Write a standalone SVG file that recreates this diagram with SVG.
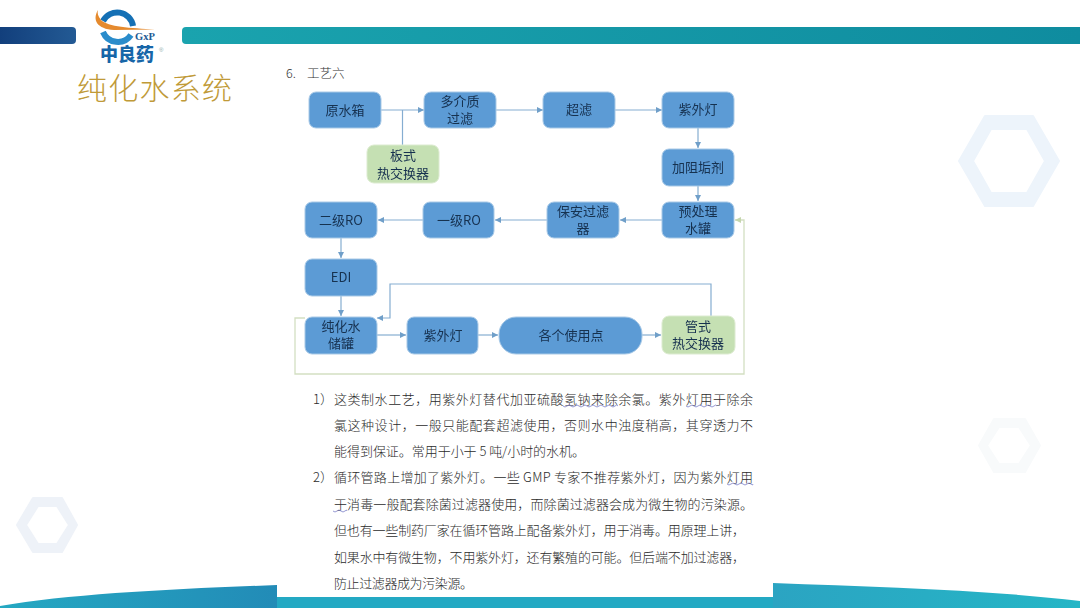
<svg xmlns="http://www.w3.org/2000/svg" width="1080" height="608" viewBox="0 0 1080 608">
<style>
.n{fill:#5b9bd5;stroke:#a9c9e6;stroke-width:1}
.g{fill:#c5e0b3;stroke:#dcebd0;stroke-width:1}
.t{font-family:"Noto Sans CJK SC","Liberation Sans",sans-serif;font-size:13px;fill:#17304f;text-anchor:middle}
.c{fill:none;stroke:#85add1;stroke-width:1.2}
.l{fill:none;stroke:#d3dfc2;stroke-width:1.3}
.p{font-family:"Noto Sans CJK SC","Liberation Serif",sans-serif;font-size:13px;font-weight:300;fill:#2b2b2b}
.w{fill:none;stroke:#6a6fc0;stroke-width:.7}
.h{fill-rule:evenodd;stroke-linejoin:round;stroke-width:2}
</style>
<defs>
<marker id="a" markerWidth="8" markerHeight="8" refX="6" refY="3" orient="auto" markerUnits="userSpaceOnUse"><path d="M0 0L6 3L0 6z" fill="#6f9fc9"/></marker>
<marker id="b" markerWidth="8" markerHeight="8" refX="6" refY="3" orient="auto" markerUnits="userSpaceOnUse"><path d="M0 0L6 3L0 6z" fill="#c5d6ad"/></marker>
<linearGradient id="bar1" x1="0" x2="1"><stop offset="0" stop-color="#123f7c"/><stop offset="1" stop-color="#235a94"/></linearGradient>
<linearGradient id="bar2" x1="0" x2="1"><stop offset="0" stop-color="#1aa3ae"/><stop offset="1" stop-color="#0f8c9f"/></linearGradient>
<linearGradient id="wL" x1="0" x2="1"><stop offset="0" stop-color="#25a8c2"/><stop offset="1" stop-color="#2289b6"/></linearGradient>
<linearGradient id="wR" x1="0" x2="1"><stop offset="0" stop-color="#2ba4c2"/><stop offset="1" stop-color="#25b6c6"/></linearGradient>
<filter id="s" x="-5%" y="-5%" width="110%" height="110%"><feGaussianBlur stdDeviation="0.35"/></filter>
</defs>
<rect width="1080" height="608" fill="#fff"/>
<g id="decor">
<path class="h" fill="#edf4fb" stroke="#edf4fb" d="M985 116H1033L1059 161L1033 206H985L959 161Z M991 129L973 161L991 193H1027L1045 161L1027 129Z"/>
<path class="h" fill="#f8fafb" stroke="#f8fafb" d="M994 419H1025L1040 445.500L1025 472H994L979 445.500Z M999 427L987 445.500L999 464H1019L1031 445.500L1019 427Z"/>
<path class="h" fill="#eef2f8" stroke="#eef2f8" d="M33 498H62L77 525L62 552H33L17 525Z M38 506L26 525L38 544H57L69 525L57 506Z"/>
<path fill="url(#wL)" d="M0 608V606C70 594 170 589 277 585V597H300V608Z"/>
<path fill="url(#wR)" d="M773 608V583C880 587 990 590 1080 601V608Z"/>
<rect x="277" y="597" width="496" height="11" fill="#23a9c3"/>
<path fill="url(#bar1)" d="M0 27H72Q76 27 76 31V40Q76 44 72 44H0Z"/>
<path fill="url(#bar2)" d="M186 27H1080V44H186Q182 44 182 40V31Q182 27 186 27Z"/>
</g>
<g id="logo">
<rect x="92" y="5" width="44" height="42" fill="#fff"/>
<path fill="none" stroke="#1570b5" stroke-width="6" d="M133 26A16 16 0 0 0 103 21"/>
<path fill="none" stroke="#2a8ccb" stroke-width="6" d="M103 32A16 16 0 0 0 131 35"/>
<path fill="#fff" d="M99 20C104 28 118 30 150 30L120 34C106 34 99 28 99 20Z"/>
<path fill="#e58a2e" d="M98 10C92 20 97 29 114 30L155 29.500C130 28 108 27 101 20C98 16 97 13 98 10Z"/>
<text x="135" y="39.500" font-family="Liberation Serif,serif" font-size="10.500" font-weight="700" fill="#1d5a94">GxP</text>
<text x="100" y="61" font-family="&quot;Noto Sans CJK SC&quot;,sans-serif" font-size="18" font-weight="900" fill="#1766a8">中良药</text>
<text x="159" y="52" font-family="Liberation Sans,sans-serif" font-size="6" fill="#8aa">®</text>
</g>
<text id="title" x="77" y="99" textLength="155" font-family="&quot;Noto Sans CJK SC&quot;,sans-serif" font-size="30" font-weight="300" fill="#c09a38">纯化水系统</text>
<text id="heading" x="286" y="78" font-family="&quot;Noto Sans CJK SC&quot;,&quot;Liberation Serif&quot;,sans-serif" font-size="12.500" font-weight="300" fill="#333">6.</text>
<text x="307" y="78" font-family="&quot;Noto Sans CJK SC&quot;,sans-serif" font-size="12.500" font-weight="300" fill="#333">工艺六</text>
<g id="connectors" filter="url(#s)">
<path class="c" marker-end="url(#a)" d="M381 110H424"/>
<path class="c" d="M402.500 145V110"/>
<path class="c" marker-end="url(#a)" d="M496 110H543"/>
<path class="c" marker-end="url(#a)" d="M615 110H662"/>
<path class="c" marker-end="url(#a)" d="M698 128V148"/>
<path class="c" marker-end="url(#a)" d="M698 186V201"/>
<path class="c" marker-end="url(#a)" d="M662 220H620"/>
<path class="c" marker-end="url(#a)" d="M547 220H495"/>
<path class="c" marker-end="url(#a)" d="M423 220H378"/>
<path class="c" marker-end="url(#a)" d="M341 238V258"/>
<path class="c" marker-end="url(#a)" d="M341 296V316"/>
<path class="c" marker-end="url(#a)" d="M377 335H406"/>
<path class="c" marker-end="url(#a)" d="M478 335H498"/>
<path class="c" marker-end="url(#a)" d="M642 335H661"/>
<path class="c" marker-end="url(#a)" d="M711 316V284H390V318H377"/>
<path class="l" marker-end="url(#b)" d="M305 318H295V374H744V220H735"/>
</g>
<g id="n1" filter="url(#s)"><rect class="n" x="309" y="92" width="72" height="36" rx="7"/><text class="t" x="345" y="115">原水箱</text></g>
<g id="n2" filter="url(#s)"><rect class="n" x="424" y="92" width="72" height="36" rx="7"/><text class="t" x="460" y="106">多介质</text><text class="t" x="460" y="123">过滤</text></g>
<g id="n3" filter="url(#s)"><rect class="n" x="543" y="92" width="72" height="36" rx="7"/><text class="t" x="579" y="114">超滤</text></g>
<g id="n4" filter="url(#s)"><rect class="n" x="662" y="92" width="72" height="36" rx="7"/><text class="t" x="698" y="114">紫外灯</text></g>
<g id="n5" filter="url(#s)"><rect class="g" x="367" y="145" width="72" height="38" rx="7"/><text class="t" x="403" y="160">板式</text><text class="t" x="403" y="178">热交换器</text></g>
<g id="n6" filter="url(#s)"><rect class="n" x="662" y="149" width="72" height="37" rx="7"/><text class="t" x="698" y="172">加阻垢剂</text></g>
<g id="n7" filter="url(#s)"><rect class="n" x="662" y="202" width="72" height="36" rx="7"/><text class="t" x="698" y="216">预处理</text><text class="t" x="698" y="233">水罐</text></g>
<g id="n8" filter="url(#s)"><rect class="n" x="547" y="202" width="72" height="36" rx="7"/><text class="t" x="583" y="216">保安过滤</text><text class="t" x="583" y="233">器</text></g>
<g id="n9" filter="url(#s)"><rect class="n" x="423" y="202" width="71" height="36" rx="7"/><text class="t" x="459" y="225">一级RO</text></g>
<g id="n10" filter="url(#s)"><rect class="n" x="305" y="202" width="72" height="36" rx="7"/><text class="t" x="341" y="225">二级RO</text></g>
<g id="n11" filter="url(#s)"><rect class="n" x="305" y="259" width="72" height="37" rx="7"/><text class="t" x="341" y="282">EDI</text></g>
<g id="n12" filter="url(#s)"><rect class="n" x="305" y="317" width="72" height="37" rx="7"/><text class="t" x="341" y="331">纯化水</text><text class="t" x="341" y="348">储罐</text></g>
<g id="n13" filter="url(#s)"><rect class="n" x="407" y="317" width="71" height="37" rx="7"/><text class="t" x="443" y="340">紫外灯</text></g>
<g id="n14" filter="url(#s)"><rect class="n" x="499" y="317" width="143" height="37" rx="17"/><text class="t" x="571" y="340">各个使用点</text></g>
<g id="n15" filter="url(#s)"><rect class="g" x="662" y="316" width="73" height="38" rx="7"/><text class="t" x="698" y="331">管式</text><text class="t" x="698" y="348">热交换器</text></g>
<g id="body">
<text class="p" x="313" y="404">1）</text>
<text class="p" x="334" y="404" textLength="419">这类制水工艺，用紫外灯替代加亚硫酸氢钠来除余氯。紫外灯用于除余</text>
<text class="p" x="334" y="430" textLength="419">氯这种设计，一般只能配套超滤使用，否则水中浊度稍高，其穿透力不</text>
<text class="p" x="334" y="456" textLength="251">能得到保证。常用于小于 5 吨/小时的水机。</text>
<text class="p" x="313" y="482">2）</text>
<text class="p" x="334" y="482" textLength="419">循环管路上增加了紫外灯。一些 GMP 专家不推荐紫外灯，因为紫外灯用</text>
<text class="p" x="334" y="509" textLength="419">于消毒一般配套除菌过滤器使用，而除菌过滤器会成为微生物的污染源。</text>
<text class="p" x="334" y="535" textLength="411">但也有一些制药厂家在循环管路上配备紫外灯，用于消毒。用原理上讲，</text>
<text class="p" x="334" y="562" textLength="411">如果水中有微生物，不用紫外灯，还有繁殖的可能。但后端不加过滤器，</text>
<text class="p" x="334" y="588" textLength="139">防止过滤器成为污染源。</text>
<path class="w" d="M563 406q2 2 4 0t4 0t4 0t4 0t4 0t4 0t4 0t4 0t4 0t4 0t4 0t4 0t4 0t3 0"/>
<path class="w" d="M686 406q2 2 4 0t4 0t4 0t4 0t4 0t4 0t4 0t3 0"/>
<path class="w" d="M727 484q2 2 4 0t4 0t4 0t4 0t4 0t4 0t2 0"/>
<path class="w" d="M333 511q2 2 4 0t4 0t4 0t2 0"/>
</g>
</svg>
